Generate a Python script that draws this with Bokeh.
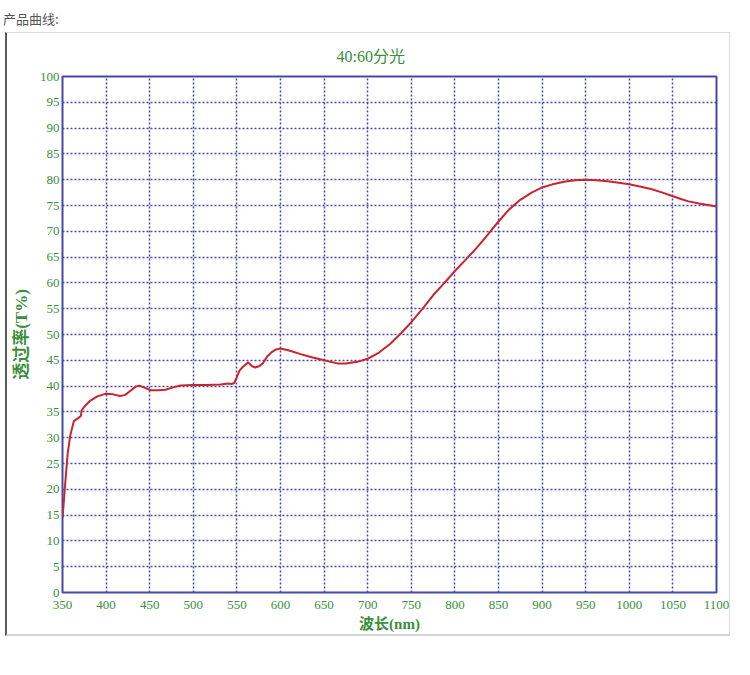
from bokeh.plotting import figure
from bokeh.models import Range1d, FixedTicker, Div
from bokeh.layouts import column
from bokeh.embed import file_html
from bokeh.resources import INLINE

# Data (wavelength nm, transmission %)
wavelength = [350, 351, 353.5, 356, 359, 363, 368, 371, 372, 376, 382, 390, 399, 408, 416, 422,
              428, 434, 438, 444, 451, 460, 468, 476, 485, 500, 515, 531, 540, 544, 547, 550,
              553, 556, 563, 567, 571, 576, 580, 585, 590, 595, 600, 610, 623, 636, 650, 665,
              675, 688, 700, 713, 726, 738, 750, 763, 775, 788, 800, 813, 825, 838, 850, 862,
              875, 888, 900, 912, 925, 938, 950, 962, 975, 988, 1000, 1012, 1025, 1038, 1050,
              1060, 1068, 1080, 1090, 1100]
transmission = [14.5, 16.5, 22, 27, 30.5, 33.2, 33.8, 34.2, 35.3, 36.2, 37.2, 38.0, 38.5, 38.4,
                38.1, 38.3, 39.1, 39.9, 40.1, 39.7, 39.2, 39.2, 39.3, 39.7, 40.1, 40.2, 40.2,
                40.3, 40.5, 40.4, 40.6, 41.8, 43.0, 43.6, 44.6, 43.9, 43.6, 43.9, 44.5, 45.8,
                46.6, 47.1, 47.3, 46.9, 46.2, 45.6, 45.0, 44.4, 44.4, 44.7, 45.3, 46.5, 48.2,
                50.2, 52.4, 55.0, 57.6, 60.0, 62.3, 64.6, 66.8, 69.4, 71.9, 74.2, 76.1, 77.5,
                78.5, 79.1, 79.6, 79.9, 80.0, 79.9, 79.7, 79.4, 79.1, 78.7, 78.2, 77.5, 76.8,
                76.2, 75.8, 75.4, 75.1, 74.8]
x_ticks = list(range(350, 1101, 50))
y_ticks = list(range(0, 101, 5))

title_text = "40:60分光"
x_label = "波长(nm)"
y_label = "透过率(T%)"
header_text = "产品曲线:"

GREEN = "#3a8f3a"
GRID = "#4646ad"
FONT = "'Liberation Serif', 'Noto Sans CJK SC'"

p = figure(width=725, height=604, output_backend="svg", toolbar_location=None,
           x_range=Range1d(350, 1100), y_range=Range1d(0, 100),
           min_border_left=55, min_border_right=16, min_border_top=41, min_border_bottom=45,
           margin=(0, 0, 0, 5))
p.styles = {"border-top": "1px solid #dcdcdc", "border-right": "1px solid #dcdcdc",
            "border-bottom": "2px solid #d4d4d4", "border-left": "2px solid #5a5a5a"}

p.title.text = title_text
p.title.align = "left"
p.title.offset = 274
p.title.text_color = GREEN
p.title.text_font = FONT
p.title.text_font_size = "16px"
p.title.text_font_style = "normal"
p.title.standoff = 24

p.line(wavelength, transmission, line_color="#c9252c", line_width=2)

p.xaxis.ticker = FixedTicker(ticks=x_ticks)
p.yaxis.ticker = FixedTicker(ticks=y_ticks)
for ax in (p.xaxis[0], p.yaxis[0]):
    ax.axis_line_color = None
    ax.major_tick_line_color = None
    ax.minor_tick_line_color = None
    ax.major_tick_out = 0
    ax.major_tick_in = 0
    ax.minor_tick_out = 0
    ax.minor_tick_in = 0
    ax.major_label_text_color = GREEN
    ax.major_label_text_font = FONT
    ax.major_label_text_font_size = "13px"
    ax.axis_label_text_color = GREEN
    ax.axis_label_text_font = FONT
    ax.axis_label_text_font_style = "bold"
p.xaxis.axis_label_text_font_size = "15px"
p.yaxis.axis_label_text_font_size = "17px"
p.xaxis.axis_label = x_label
p.yaxis.axis_label = y_label
p.xaxis.major_label_standoff = 8
p.yaxis.major_label_standoff = 3
p.xaxis.axis_label_standoff = 4
p.yaxis.axis_label_standoff = 6

p.xgrid.ticker = FixedTicker(ticks=x_ticks)
p.ygrid.ticker = FixedTicker(ticks=y_ticks)
for g in (p.xgrid[0], p.ygrid[0]):
    g.grid_line_color = GRID
    g.grid_line_dash = "2 2"
    g.grid_line_width = 1.5

p.outline_line_color = "#4848a8"
p.outline_line_width = 2
p.outline_line_alpha = 1
p.background_fill_color = "white"
p.border_fill_color = "white"

hdr = Div(text=header_text, width=200, height=32, margin=(0, 0, 0, 0),
          styles={"font-family": "'Noto Sans CJK SC'", "font-size": "13px",
                  "color": "#555555", "padding-top": "10px", "padding-left": "3px",
                  "box-sizing": "border-box"})

layout = column(hdr, p, spacing=0)
open("out.html", "w").write(file_html(layout, INLINE))
